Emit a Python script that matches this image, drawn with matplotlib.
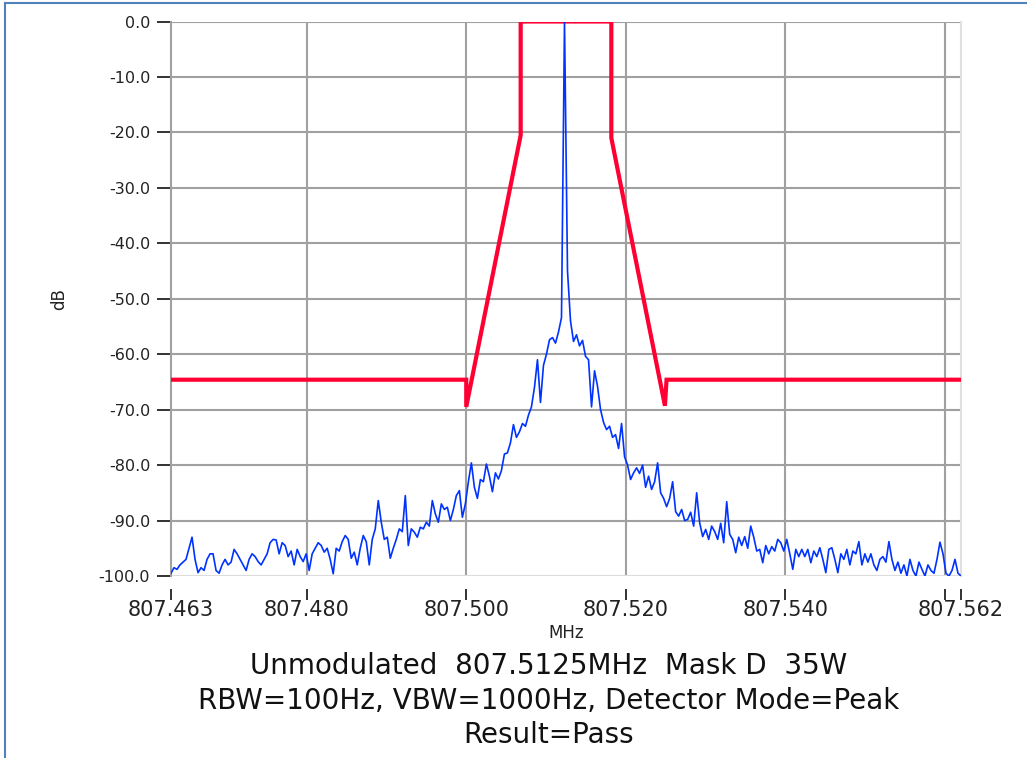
import numpy as np
import matplotlib
matplotlib.use("Agg")
import matplotlib.pyplot as plt
from matplotlib.lines import Line2D

# spectrum trace (dB), evenly spaced sweep from 807.463 to 807.562 MHz
trace_db = [
    -99.5, -98.5, -98.8, -98.0, -97.5, -97.0, -95.0, -93.0, -97.0, -99.4,
    -98.5, -99.0, -97.0, -96.0, -96.0, -99.0, -99.5, -98.0, -97.0, -98.0,
    -97.5, -95.2, -96.0, -97.0, -98.0, -99.0, -97.0, -96.0, -96.5, -97.4,
    -98.0, -97.0, -96.0, -94.0, -93.4, -93.5, -96.0, -94.0, -94.5, -96.5,
    -95.5, -98.0, -95.2, -96.5, -97.4, -96.0, -99.0, -96.0, -95.0, -94.0,
    -94.5, -95.7, -95.0, -97.0, -99.6, -95.0, -95.5, -93.8, -92.7, -93.4,
    -96.8, -95.7, -98.0, -95.0, -92.7, -93.8, -98.0, -93.4, -91.5, -86.4,
    -90.3, -93.4, -93.0, -96.8, -95.0, -93.4, -91.5, -92.0, -85.5, -94.5,
    -91.5, -92.1, -93.0, -91.2, -91.5, -90.3, -91.0, -86.4, -88.8, -90.3,
    -87.0, -88.0, -87.6, -90.0, -88.0, -85.5, -84.6, -89.4, -87.0, -83.0,
    -79.6, -84.0, -86.0, -82.6, -83.0, -79.8, -82.0, -84.8, -81.4, -82.5,
    -81.0, -78.0, -77.8, -76.0, -72.7, -75.0, -74.0, -72.5, -73.0, -71.0,
    -69.5, -66.0, -61.0, -68.7, -62.0, -60.0, -57.4, -57.0, -58.0, -56.0,
    -53.4, 0.0, -45.0, -54.0, -57.7, -56.5, -58.5, -57.5, -60.4, -61.0,
    -69.5, -63.0, -65.8, -70.0, -72.3, -73.6, -73.0, -75.0, -74.5, -77.0,
    -72.5, -78.5, -80.0, -82.6, -81.4, -80.5, -81.5, -80.0, -84.0, -82.0,
    -84.4, -83.0, -79.6, -85.0, -86.0, -87.5, -86.0, -83.0, -88.4, -89.2,
    -88.0, -90.0, -89.8, -88.5, -91.0, -85.0, -90.4, -92.9, -91.6, -93.4,
    -91.0, -92.0, -93.4, -90.5, -94.0, -86.6, -92.5, -93.4, -95.8, -93.0,
    -94.5, -92.9, -95.0, -91.0, -93.0, -95.5, -95.2, -97.6, -94.5, -96.0,
    -94.7, -95.5, -93.4, -94.0, -95.5, -93.4, -96.0, -98.8, -95.2, -96.5,
    -95.2, -96.5, -95.2, -97.6, -95.5, -96.5, -94.9, -97.0, -99.4, -95.2,
    -94.9, -97.0, -99.4, -96.0, -97.0, -95.2, -98.0, -95.5, -96.0, -93.8,
    -98.0, -96.0, -97.5, -96.0, -98.0, -99.0, -97.0, -96.5, -97.5, -93.8,
    -97.0, -99.0, -97.5, -99.5, -98.0, -100.0, -97.0, -99.0, -100.0, -97.5,
    -98.8, -100.0, -98.0, -99.0, -99.5, -97.0, -93.9, -96.0, -99.5, -100.0,
    -99.0, -97.0, -99.5, -100.0,
]

# emission mask corner points
mask_mhz = [807.463, 807.5000, 807.5000, 807.50682, 807.50682,
            807.51818, 807.51818, 807.5249, 807.5251, 807.562]
mask_db = [-64.6, -64.6, -69.5, -20.5, 0.0,
           0.0, -21.0, -69.3, -64.6, -64.6]

xticks = [807.463, 807.480, 807.500, 807.520, 807.540, 807.560, 807.562]
xlabels = ["807.463", "807.480", "807.500", "807.520", "807.540", "", "807.562"]
yticks = list(range(0, -101, -10))

title_lines = ["Unmodulated  807.5125MHz  Mask D  35W",
               "RBW=100Hz, VBW=1000Hz, Detector Mode=Peak",
               "Result=Pass"]

trace_mhz = np.linspace(807.463, 807.562, len(trace_db))

fig = plt.figure(figsize=(10.27, 7.58), dpi=100)
ax = fig.add_axes([171/1027, 1-576/758, 790/1027, (576-21.5)/758])

ax.plot(mask_mhz, mask_db, color="#ff0033", lw=3.0, zorder=3, solid_joinstyle="miter")
ax.plot(trace_mhz, trace_db, color="#0033ff", lw=1.2, zorder=4)

ax.set_xlim(807.463, 807.562)
ax.set_ylim(-100, 0)
ax.set_xticks(xticks)
ax.set_xticklabels(xlabels)
ax.set_yticks(yticks)
ax.set_yticklabels(["%.1f" % v for v in yticks])

# grid only at the inner ticks
for v in [807.480, 807.500, 807.520, 807.540, 807.560]:
    ax.axvline(v, color="#a0a0a0", lw=1.5, zorder=1)
for v in yticks[:-1]:
    ax.axhline(v, color="#a0a0a0", lw=1.5, zorder=1)
ax.axhline(-100, color="#dddddd", lw=1.5, zorder=1)

ax.spines["top"].set_visible(False)
ax.spines["right"].set_color("#e0e0e0")
ax.spines["right"].set_linewidth(1.5)
ax.spines["left"].set_color("#a0a0a0")
ax.spines["left"].set_linewidth(1.5)
ax.spines["bottom"].set_visible(False)
ax.spines["bottom"].set_position(("outward", 9))
ax.tick_params(axis="both", direction="out", color="#222222", width=1.3,
               labelcolor="#222222")
ax.tick_params(axis="y", length=10, pad=5, labelsize=11.5)
ax.tick_params(axis="x", length=8, pad=0, labelsize=15)

ax.set_xlabel("MHz", fontsize=12, color="#222222", labelpad=3)
ax.set_ylabel("dB", fontsize=12, color="#222222", labelpad=22)

for k, line in enumerate(title_lines):
    fig.text(549/1027, 1-(666+34.5*k)/758, line, ha="center", va="center",
             fontsize=20, color="#111111")

# outer frame of the window
fig.add_artist(Line2D([5/1027, 1], [1-2.5/758, 1-2.5/758], color="#4f81bd", lw=1.5))
fig.add_artist(Line2D([5/1027, 5/1027], [0, 1-2.5/758], color="#4f81bd", lw=1.5))

fig.savefig("out.png", dpi=100)
